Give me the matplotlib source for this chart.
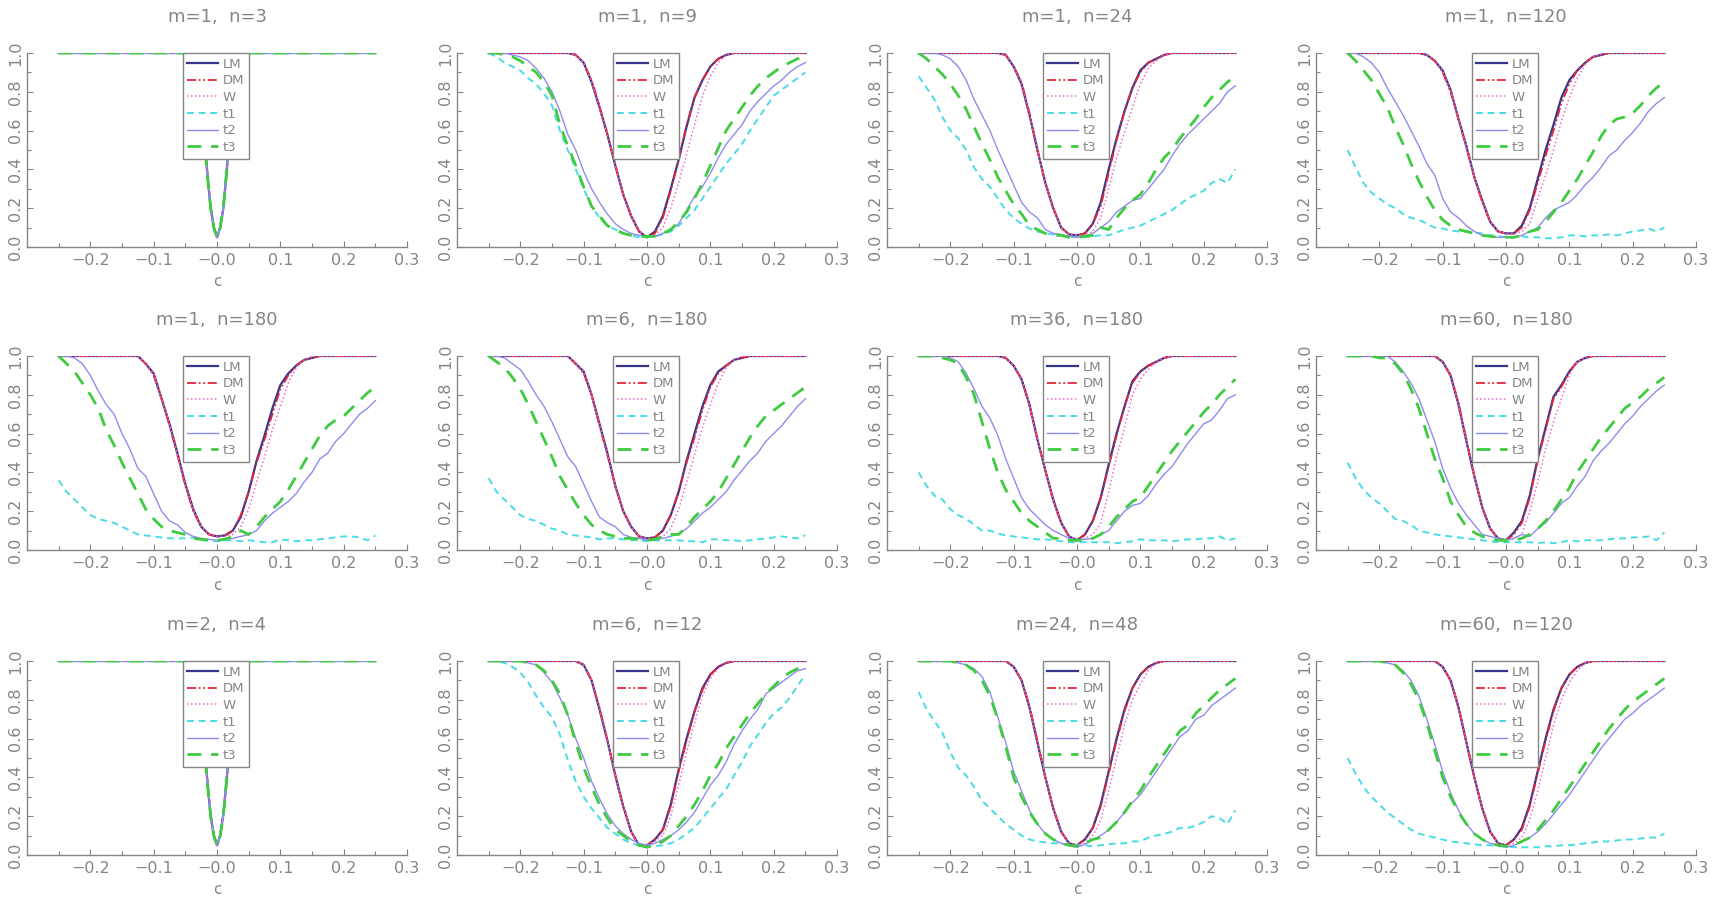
import matplotlib
matplotlib.use("Agg")
import matplotlib.pyplot as plt
from matplotlib.ticker import FixedLocator

# ---------------- data ----------------
C = [-0.25, -0.2375, -0.225, -0.2125, -0.2, -0.1875, -0.175, -0.1625, -0.15, -0.1375,
     -0.125, -0.1125, -0.1, -0.0875, -0.075, -0.0625, -0.05, -0.0375, -0.025, -0.0125,
     0.0, 0.0125, 0.025, 0.0375, 0.05, 0.0625, 0.075, 0.0875, 0.1, 0.1125,
     0.125, 0.1375, 0.15, 0.1625, 0.175, 0.1875, 0.2, 0.2125, 0.225, 0.2375, 0.25]
CV = [-0.25, -0.035, -0.03, -0.025, -0.02, -0.015, -0.01, -0.005, 0.0,
      0.005, 0.01, 0.015, 0.02, 0.025, 0.03, 0.035, 0.25]

TITLES = ["m=1,  n=3", "m=1,  n=9", "m=1,  n=24", "m=1,  n=120",
          "m=1,  n=180", "m=6,  n=180", "m=36,  n=180", "m=60,  n=180",
          "m=2,  n=4", "m=6,  n=12", "m=24,  n=48", "m=60,  n=120"]
NAMES = ["LM", "DM", "W", "t1", "t2", "t3"]
XTICKS = [-0.2, -0.1, 0.0, 0.1, 0.2, 0.3]
XTICKLABELS = ["\u22120.2", "\u22120.1", "\u22120.0", "0.1", "0.2", "0.3"]
YTICKS = [0.0, 0.2, 0.4, 0.6, 0.8, 1.0]
YTICKLABELS = ["0.0", "0.2", "0.4", "0.6", "0.8", "1.0"]

# m=1, n=3
LM_1_3 = [1, 1, .97, .88, .55, .37, .20, .10, .05, .10, .20, .38, .58, .86, .97, 1, 1]
DM_1_3 = [1, 1, .97, .87, .56, .37, .21, .10, .05, .10, .20, .37, .57, .85, .97, 1, 1]
W_1_3 = [1, 1, .97, .88, .56, .38, .20, .10, .05, .10, .19, .37, .57, .85, .97, 1, 1]
T1_1_3 = [1, 1, .97, .87, .55, .36, .20, .10, .05, .10, .20, .37, .58, .86, .97, 1, 1]
T2_1_3 = [1, 1, .97, .88, .55, .37, .20, .10, .05, .10, .21, .38, .58, .86, .97, 1, 1]
T3_1_3 = [1, 1, .96, .87, .54, .36, .20, .10, .05, .10, .20, .38, .59, .86, .97, 1, 1]

# m=1, n=9
LM_1_9 = [1, 1, 1, 1, 1, 1, 1, 1, 1, 1, 1, .99, .95, .85, .72, .58, .42, .27, .16, .08, .05,
          .08, .16, .30, .45, .62, .77, .86, .93, .97, .99, 1, 1, 1, 1, 1, 1, 1, 1, 1, 1]
DM_1_9 = [1, 1, 1, 1, 1, 1, 1, 1, 1, 1, 1, .99, .95, .86, .73, .58, .42, .27, .16, .08, .05,
          .07, .15, .29, .45, .63, .77, .86, .93, .97, .99, 1, 1, 1, 1, 1, 1, 1, 1, 1, 1]
W_1_9 = [1, 1, 1, 1, 1, 1, 1, 1, 1, 1, 1, .99, .95, .85, .72, .58, .42, .27, .16, .08, .05,
         .06, .10, .20, .33, .48, .63, .78, .88, .95, .99, 1, 1, 1, 1, 1, 1, 1, 1, 1, 1]
T1_1_9 = [1.0, .98, .95, .93, .91, .87, .84, .79, .73, .60, .50, .40, .30, .21, .15, .11, .09, .07, .06, .05, .05,
          .055, .065, .08, .11, .15, .19, .25, .31, .37, .43, .48, .53, .60, .66, .72, .78, .81, .84, .87, .90]
T2_1_9 = [1, 1, 1, .99, .98, .96, .92, .87, .80, .70, .58, .50, .39, .30, .23, .17, .12, .09, .07, .06, .055,
          .055, .07, .09, .12, .19, .26, .31, .38, .46, .53, .58, .63, .70, .75, .79, .83, .86, .90, .93, .95]
T3_1_9 = [1, 1, .99, .98, .96, .93, .90, .85, .78, .63, .52, .42, .31, .21, .16, .11, .09, .07, .06, .055, .055,
          .055, .07, .09, .13, .18, .25, .33, .42, .51, .60, .66, .72, .78, .83, .87, .90, .93, .95, .97, .98]

# m=1, n=24
LM_1_24 = [1, 1, 1, 1, 1, 1, 1, 1, 1, 1, 1, .99, .93, .84, .68, .50, .33, .20, .10, .065, .06,
           .07, .12, .23, .40, .56, .70, .82, .91, .95, .97, .99, 1, 1, 1, 1, 1, 1, 1, 1, 1]
DM_1_24 = [1, 1, 1, 1, 1, 1, 1, 1, 1, 1, 1, .99, .93, .85, .69, .50, .33, .20, .10, .065, .06,
           .07, .12, .21, .38, .55, .70, .82, .90, .95, .97, .99, 1, 1, 1, 1, 1, 1, 1, 1, 1]
W_1_24 = [1, 1, 1, 1, 1, 1, 1, 1, 1, 1, 1, .99, .93, .84, .68, .50, .33, .20, .10, .065, .06,
          .06, .08, .15, .30, .46, .59, .72, .84, .92, .96, .99, 1, 1, 1, 1, 1, 1, 1, 1, 1]
T1_1_24 = [.88, .82, .76, .67, .60, .56, .50, .41, .35, .31, .25, .19, .15, .12, .095, .08, .07, .065, .06, .055, .05,
           .05, .055, .06, .06, .075, .09, .10, .11, .13, .15, .17, .19, .22, .25, .27, .29, .33, .35, .33, .40]
T2_1_24 = [1, 1, 1, .99, .97, .93, .86, .76, .68, .60, .50, .41, .32, .23, .18, .15, .09, .07, .065, .055, .05,
           .055, .07, .10, .13, .18, .21, .24, .25, .30, .35, .40, .47, .53, .58, .62, .66, .70, .74, .80, .83]
T3_1_24 = [1, .97, .93, .89, .84, .78, .71, .62, .53, .45, .36, .29, .22, .17, .11, .09, .07, .06, .06, .05, .05,
           .055, .06, .10, .09, .15, .20, .24, .27, .33, .40, .46, .50, .56, .61, .66, .72, .77, .81, .85, .88]

# m=1, n=120
LM_1_120 = [1, 1, 1, 1, 1, 1, 1, 1, 1, 1, .99, .96, .91, .81, .66, .52, .36, .24, .13, .08, .07,
            .07, .11, .20, .35, .50, .63, .77, .86, .91, .95, .98, .99, 1, 1, 1, 1, 1, 1, 1, 1]
DM_1_120 = [1, 1, 1, 1, 1, 1, 1, 1, 1, 1, .99, .96, .90, .80, .66, .51, .36, .23, .13, .08, .07,
            .07, .10, .19, .33, .47, .60, .74, .84, .91, .95, .98, .99, 1, 1, 1, 1, 1, 1, 1, 1]
W_1_120 = [1, 1, 1, 1, 1, 1, 1, 1, 1, 1, .99, .96, .91, .81, .66, .52, .36, .24, .13, .08, .07,
           .065, .08, .12, .25, .37, .50, .65, .77, .87, .94, .98, .995, 1, 1, 1, 1, 1, 1, 1, 1]
T1_1_120 = [.50, .41, .33, .28, .25, .22, .20, .17, .15, .14, .12, .10, .095, .085, .08, .08, .075, .07, .06, .055, .05,
            .05, .055, .05, .05, .045, .045, .05, .06, .06, .055, .06, .06, .065, .06, .07, .08, .085, .095, .08, .10]
T2_1_120 = [1, 1, .98, .95, .90, .82, .75, .68, .60, .52, .43, .37, .25, .18, .15, .11, .08, .06, .055, .05, .05,
            .05, .06, .08, .10, .15, .19, .21, .23, .27, .32, .36, .41, .47, .50, .55, .59, .64, .70, .74, .77]
T3_1_120 = [1, .96, .91, .86, .79, .72, .62, .53, .43, .34, .26, .19, .14, .11, .09, .08, .07, .06, .055, .05, .05,
            .05, .06, .08, .09, .13, .18, .23, .29, .35, .42, .49, .57, .63, .66, .67, .69, .73, .78, .82, .85]

# m=1, n=180
LM_1_180 = [1, 1, 1, 1, 1, 1, 1, 1, 1, 1, 1, .96, .91, .78, .65, .50, .34, .21, .12, .08, .07,
            .075, .10, .17, .30, .46, .59, .73, .85, .91, .95, .98, .99, 1, 1, 1, 1, 1, 1, 1, 1]
DM_1_180 = [1, 1, 1, 1, 1, 1, 1, 1, 1, 1, 1, .96, .90, .78, .64, .49, .33, .20, .12, .08, .07,
            .075, .10, .18, .30, .45, .57, .70, .83, .90, .95, .98, .99, 1, 1, 1, 1, 1, 1, 1, 1]
W_1_180 = [1, 1, 1, 1, 1, 1, 1, 1, 1, 1, 1, .96, .91, .78, .65, .50, .34, .21, .12, .08, .07,
           .07, .08, .12, .21, .35, .48, .62, .74, .86, .94, .98, 1, 1, 1, 1, 1, 1, 1, 1, 1]
T1_1_180 = [.36, .30, .26, .22, .18, .16, .15, .14, .12, .10, .08, .075, .07, .065, .06, .06, .06, .065, .05, .05, .045,
            .05, .05, .045, .05, .045, .04, .04, .055, .05, .045, .05, .05, .055, .06, .065, .07, .07, .065, .05, .075]
T2_1_180 = [1, 1, .99, .96, .90, .82, .75, .70, .60, .52, .42, .38, .29, .20, .15, .13, .09, .07, .06, .055, .05,
            .055, .06, .07, .08, .10, .15, .19, .22, .25, .29, .35, .40, .47, .50, .56, .60, .65, .70, .73, .77]
T3_1_180 = [1, .96, .92, .86, .80, .73, .62, .54, .45, .37, .29, .21, .16, .12, .10, .09, .08, .06, .055, .05, .05,
            .055, .07, .10, .08, .12, .17, .21, .25, .31, .38, .45, .52, .59, .64, .67, .69, .73, .77, .81, .84]

# m=6, n=180
LM_6_180 = [1, 1, 1, 1, 1, 1, 1, 1, 1, 1, 1, .96, .92, .80, .65, .50, .33, .20, .12, .07, .06,
            .065, .10, .18, .30, .46, .60, .74, .85, .92, .95, .98, .99, 1, 1, 1, 1, 1, 1, 1, 1]
DM_6_180 = [1, 1, 1, 1, 1, 1, 1, 1, 1, 1, 1, .96, .91, .80, .64, .49, .33, .20, .12, .07, .06,
            .065, .10, .18, .30, .45, .58, .72, .84, .91, .95, .98, .99, 1, 1, 1, 1, 1, 1, 1, 1]
W_6_180 = [1, 1, 1, 1, 1, 1, 1, 1, 1, 1, 1, .96, .92, .80, .65, .50, .33, .20, .12, .07, .06,
           .06, .07, .11, .21, .35, .49, .63, .75, .86, .94, .98, 1, 1, 1, 1, 1, 1, 1, 1, 1]
T1_6_180 = [.37, .30, .26, .22, .18, .16, .15, .13, .11, .10, .08, .075, .07, .065, .055, .06, .06, .055, .05, .05, .045,
            .05, .05, .05, .05, .045, .045, .04, .055, .055, .05, .05, .045, .05, .055, .06, .065, .07, .065, .06, .075]
T2_6_180 = [1, 1, .99, .96, .93, .87, .80, .74, .66, .57, .48, .43, .34, .25, .17, .14, .12, .08, .065, .06, .05,
            .055, .06, .07, .085, .11, .15, .19, .22, .26, .30, .36, .41, .46, .50, .56, .60, .64, .69, .74, .78]
T3_6_180 = [1, .97, .94, .89, .83, .75, .66, .57, .48, .38, .31, .24, .18, .13, .10, .08, .07, .06, .06, .055, .05,
            .055, .07, .08, .08, .12, .17, .21, .25, .30, .37, .44, .51, .58, .64, .69, .72, .75, .78, .81, .84]

# m=36, n=180
LM_36_180 = [1, 1, 1, 1, 1, 1, 1, 1, 1, 1, 1, .99, .95, .88, .75, .57, .41, .26, .14, .07, .05,
             .08, .15, .27, .44, .60, .74, .87, .92, .95, .97, .99, 1, 1, 1, 1, 1, 1, 1, 1, 1]
DM_36_180 = [1, 1, 1, 1, 1, 1, 1, 1, 1, 1, 1, .99, .95, .88, .74, .57, .41, .25, .14, .07, .05,
             .08, .15, .27, .43, .59, .74, .86, .92, .95, .97, .99, 1, 1, 1, 1, 1, 1, 1, 1, 1]
W_36_180 = [1, 1, 1, 1, 1, 1, 1, 1, 1, 1, 1, .99, .95, .88, .75, .57, .41, .26, .14, .07, .05,
            .06, .08, .14, .30, .48, .63, .80, .88, .93, .97, .99, 1, 1, 1, 1, 1, 1, 1, 1, 1]
T1_36_180 = [.40, .33, .28, .26, .21, .18, .16, .13, .10, .10, .085, .075, .07, .065, .06, .055, .055, .05, .045, .04, .04,
             .04, .04, .04, .04, .035, .04, .045, .055, .05, .05, .05, .045, .05, .055, .055, .06, .06, .07, .05, .06]
T2_36_180 = [1, 1, 1, 1, .99, .97, .91, .83, .74, .68, .59, .47, .37, .27, .21, .17, .13, .10, .08, .06, .05,
             .055, .06, .08, .10, .15, .20, .23, .24, .28, .34, .39, .43, .49, .55, .60, .65, .67, .72, .78, .80]
T3_36_180 = [1, 1, 1, .99, .98, .96, .89, .80, .66, .52, .40, .31, .25, .19, .15, .12, .09, .06, .06, .05, .05,
             .05, .06, .08, .12, .17, .21, .25, .27, .33, .39, .45, .51, .56, .61, .66, .71, .75, .80, .84, .88]

# m=60, n=180
LM_60_180 = [1, 1, 1, 1, 1, 1, 1, 1, 1, 1, 1, 1, .97, .90, .75, .56, .38, .22, .11, .06, .05,
             .09, .15, .28, .47, .63, .79, .85, .92, .97, .99, 1, 1, 1, 1, 1, 1, 1, 1, 1, 1]
DM_60_180 = [1, 1, 1, 1, 1, 1, 1, 1, 1, 1, 1, 1, .97, .90, .76, .57, .38, .22, .11, .06, .05,
             .08, .14, .27, .46, .62, .78, .84, .92, .97, .99, 1, 1, 1, 1, 1, 1, 1, 1, 1, 1]
W_60_180 = [1, 1, 1, 1, 1, 1, 1, 1, 1, 1, 1, 1, .97, .90, .75, .56, .38, .22, .11, .06, .05,
            .06, .08, .20, .35, .52, .66, .78, .90, .97, .99, 1, 1, 1, 1, 1, 1, 1, 1, 1, 1]
T1_60_180 = [.45, .37, .31, .27, .24, .20, .16, .15, .13, .10, .09, .08, .075, .07, .065, .06, .055, .05, .045, .04, .04,
             .04, .04, .04, .035, .04, .035, .04, .05, .045, .05, .05, .05, .055, .06, .06, .065, .065, .07, .05, .09]
T2_60_180 = [1, 1, 1, 1, 1, 1, .97, .92, .86, .78, .67, .56, .42, .32, .24, .18, .13, .08, .07, .06, .05,
             .06, .08, .07, .11, .14, .19, .24, .27, .33, .38, .46, .51, .55, .60, .65, .69, .74, .78, .82, .85]
T3_60_180 = [1, 1, 1, 1, .99, .99, .96, .91, .83, .73, .60, .47, .37, .25, .18, .12, .09, .07, .06, .05, .05,
             .05, .06, .08, .11, .15, .20, .26, .32, .40, .46, .52, .58, .63, .68, .73, .76, .79, .83, .86, .89]

# m=2, n=4
LM_2_4 = [1, 1, .97, .88, .56, .37, .20, .10, .05, .10, .21, .38, .58, .86, .97, 1, 1]
DM_2_4 = [1, 1, .97, .87, .56, .38, .21, .10, .05, .10, .20, .37, .57, .85, .97, 1, 1]
W_2_4 = [1, 1, .97, .88, .55, .37, .20, .10, .05, .10, .20, .37, .58, .85, .97, 1, 1]
T1_2_4 = [1, 1, .97, .87, .55, .36, .20, .10, .05, .10, .20, .38, .58, .86, .97, 1, 1]
T2_2_4 = [1, 1, .97, .88, .56, .37, .21, .10, .05, .10, .21, .38, .59, .86, .97, 1, 1]
T3_2_4 = [1, 1, .96, .87, .54, .36, .20, .10, .05, .10, .20, .38, .59, .86, .97, 1, 1]

# m=6, n=12
LM_6_12 = [1, 1, 1, 1, 1, 1, 1, 1, 1, 1, 1, 1, .98, .90, .75, .59, .41, .25, .12, .05, .05,
           .08, .13, .26, .44, .60, .74, .86, .93, .97, .99, 1, 1, 1, 1, 1, 1, 1, 1, 1, 1]
DM_6_12 = [1, 1, 1, 1, 1, 1, 1, 1, 1, 1, 1, 1, .98, .90, .76, .59, .41, .25, .12, .05, .05,
           .08, .13, .25, .43, .59, .74, .85, .93, .97, .99, 1, 1, 1, 1, 1, 1, 1, 1, 1, 1]
W_6_12 = [1, 1, 1, 1, 1, 1, 1, 1, 1, 1, 1, 1, .98, .90, .75, .59, .41, .25, .12, .05, .05,
          .07, .10, .20, .36, .53, .68, .82, .91, .96, .99, 1, 1, 1, 1, 1, 1, 1, 1, 1, 1]
T1_6_12 = [1, 1, .99, .97, .94, .89, .82, .76, .71, .62, .49, .38, .30, .24, .19, .14, .11, .08, .06, .05, .045,
           .045, .05, .06, .08, .11, .14, .19, .24, .29, .34, .41, .48, .56, .62, .68, .73, .76, .81, .87, .93]
T2_6_12 = [1, 1, 1, 1, 1, .99, .98, .94, .89, .81, .72, .60, .50, .38, .29, .21, .15, .11, .08, .06, .05,
           .06, .08, .10, .13, .17, .22, .29, .36, .41, .48, .57, .64, .70, .75, .83, .86, .89, .92, .95, .96]
T3_6_12 = [1, 1, 1, 1, 1, .99, .98, .95, .90, .83, .72, .58, .45, .35, .26, .19, .13, .10, .07, .05, .04,
           .05, .07, .10, .15, .20, .26, .33, .41, .47, .55, .61, .67, .73, .78, .83, .87, .91, .94, .96, .98]

# m=24, n=48
LM_24_48 = [1, 1, 1, 1, 1, 1, 1, 1, 1, 1, 1, 1, .97, .90, .76, .58, .40, .24, .12, .06, .05,
            .08, .14, .26, .43, .60, .75, .86, .93, .97, .99, 1, 1, 1, 1, 1, 1, 1, 1, 1, 1]
DM_24_48 = [1, 1, 1, 1, 1, 1, 1, 1, 1, 1, 1, 1, .97, .90, .77, .59, .40, .24, .12, .06, .05,
            .08, .14, .25, .42, .59, .74, .86, .93, .97, .99, 1, 1, 1, 1, 1, 1, 1, 1, 1, 1]
W_24_48 = [1, 1, 1, 1, 1, 1, 1, 1, 1, 1, 1, 1, .97, .90, .76, .58, .40, .24, .12, .06, .05,
           .06, .10, .18, .33, .50, .67, .80, .88, .95, .99, 1, 1, 1, 1, 1, 1, 1, 1, 1, 1]
T1_24_48 = [.84, .75, .69, .63, .53, .45, .41, .35, .28, .24, .20, .16, .13, .10, .08, .07, .065, .06, .06, .05, .05,
            .05, .045, .05, .055, .06, .06, .07, .07, .09, .10, .11, .12, .14, .14, .15, .17, .20, .19, .16, .23]
T2_24_48 = [1, 1, 1, 1, 1, .99, .98, .96, .92, .84, .71, .58, .43, .33, .23, .16, .11, .08, .06, .05, .04,
            .055, .08, .10, .13, .17, .22, .27, .31, .37, .43, .49, .55, .61, .64, .70, .72, .77, .80, .83, .86]
T3_24_48 = [1, 1, 1, 1, 1, .99, .98, .95, .90, .82, .70, .56, .40, .30, .22, .16, .11, .08, .06, .05, .045,
            .06, .08, .09, .13, .17, .22, .28, .33, .40, .46, .52, .58, .64, .67, .73, .77, .81, .85, .88, .91]

# m=60, n=120
LM_60_120 = [1, 1, 1, 1, 1, 1, 1, 1, 1, 1, 1, 1, .97, .90, .76, .58, .40, .24, .12, .06, .05,
             .08, .14, .26, .43, .60, .75, .86, .93, .97, .99, 1, 1, 1, 1, 1, 1, 1, 1, 1, 1]
DM_60_120 = [1, 1, 1, 1, 1, 1, 1, 1, 1, 1, 1, 1, .97, .90, .77, .58, .40, .24, .12, .06, .05,
             .08, .13, .25, .42, .59, .74, .86, .93, .97, .99, 1, 1, 1, 1, 1, 1, 1, 1, 1, 1]
W_60_120 = [1, 1, 1, 1, 1, 1, 1, 1, 1, 1, 1, 1, .97, .90, .76, .58, .40, .24, .12, .06, .05,
            .06, .09, .18, .33, .50, .67, .80, .89, .95, .99, 1, 1, 1, 1, 1, 1, 1, 1, 1, 1]
T1_60_120 = [.50, .42, .35, .30, .26, .22, .19, .16, .13, .11, .10, .09, .08, .07, .065, .06, .055, .05, .05, .045, .045,
             .04, .04, .04, .04, .045, .045, .05, .05, .055, .06, .065, .07, .07, .075, .08, .08, .085, .09, .09, .11]
T2_60_120 = [1, 1, 1, 1, 1, .99, .98, .95, .90, .82, .70, .57, .43, .32, .23, .16, .11, .08, .06, .05, .04,
             .05, .07, .09, .12, .16, .21, .26, .31, .37, .43, .49, .55, .60, .65, .70, .73, .77, .80, .83, .86]
T3_60_120 = [1, 1, 1, 1, 1, .99, .98, .94, .88, .80, .68, .54, .40, .30, .22, .16, .11, .08, .06, .05, .045,
             .05, .07, .09, .13, .18, .23, .29, .35, .41, .47, .53, .59, .65, .70, .75, .79, .82, .85, .88, .91]

PANELS = [
    (CV, [LM_1_3, DM_1_3, W_1_3, T1_1_3, T2_1_3, T3_1_3]),
    (C, [LM_1_9, DM_1_9, W_1_9, T1_1_9, T2_1_9, T3_1_9]),
    (C, [LM_1_24, DM_1_24, W_1_24, T1_1_24, T2_1_24, T3_1_24]),
    (C, [LM_1_120, DM_1_120, W_1_120, T1_1_120, T2_1_120, T3_1_120]),
    (C, [LM_1_180, DM_1_180, W_1_180, T1_1_180, T2_1_180, T3_1_180]),
    (C, [LM_6_180, DM_6_180, W_6_180, T1_6_180, T2_6_180, T3_6_180]),
    (C, [LM_36_180, DM_36_180, W_36_180, T1_36_180, T2_36_180, T3_36_180]),
    (C, [LM_60_180, DM_60_180, W_60_180, T1_60_180, T2_60_180, T3_60_180]),
    (CV, [LM_2_4, DM_2_4, W_2_4, T1_2_4, T2_2_4, T3_2_4]),
    (C, [LM_6_12, DM_6_12, W_6_12, T1_6_12, T2_6_12, T3_6_12]),
    (C, [LM_24_48, DM_24_48, W_24_48, T1_24_48, T2_24_48, T3_24_48]),
    (C, [LM_60_120, DM_60_120, W_60_120, T1_60_120, T2_60_120, T3_60_120]),
]

# ---------------- style ----------------
GRAY = "#858585"
STY = {
    "LM": dict(color="#35358c", lw=1.6, ls="-"),
    "DM": dict(color="#e3263a", lw=1.3, ls=(0, (5, 1.5, 1, 1.5, 1, 1.5))),
    "W": dict(color="#f468cc", lw=1.1, ls=(0, (1, 1.6))),
    "t1": dict(color="#48dce4", lw=1.4, ls=(0, (3.5, 2.5))),
    "t2": dict(color="#8d8def", lw=1.0, ls="-"),
    "t3": dict(color="#3fcb3f", lw=2.0, ls=(0, (5, 3.5))),
}

plt.rcParams["font.family"] = ["DejaVu Sans"]

W_PX, H_PX = 1722, 899
LEFTS = [27, 457, 887, 1316]
TOPS = [53, 356, 661]
AX_W, AX_H = 380, 194

fig = plt.figure(figsize=(W_PX / 100, H_PX / 100), dpi=100)
fig.patch.set_facecolor("white")

for k, (xs, series) in enumerate(PANELS):
    r, c = divmod(k, 4)
    ax = fig.add_axes([LEFTS[c] / W_PX, 1 - (TOPS[r] + AX_H) / H_PX, AX_W / W_PX, AX_H / H_PX])
    for name, ys in zip(NAMES, series):
        ax.plot(xs, ys, label=name, **STY[name])
    ax.set_xlim(-0.3, 0.3)
    ax.set_ylim(0.0, 1.0)
    for s in ("top", "right"):
        ax.spines[s].set_visible(False)
    for s in ("left", "bottom"):
        ax.spines[s].set_color(GRAY)
        ax.spines[s].set_linewidth(1.0)
    ax.set_xticks(XTICKS)
    ax.set_xticklabels(XTICKLABELS)
    ax.xaxis.set_minor_locator(FixedLocator([-0.25, -0.15, -0.05, 0.05, 0.15, 0.25]))
    ax.set_yticks(YTICKS)
    ax.set_yticklabels(YTICKLABELS, rotation=90, va="center")
    ax.yaxis.set_minor_locator(FixedLocator([0.1, 0.3, 0.5, 0.7, 0.9]))
    ax.tick_params(axis="both", which="both", direction="in", color=GRAY,
                   labelcolor=GRAY, labelsize=11.5, width=0.8)
    ax.tick_params(axis="both", which="major", length=4)
    ax.tick_params(axis="both", which="minor", length=3)
    ax.tick_params(axis="x", pad=4)
    ax.tick_params(axis="y", pad=3)
    ax.set_title(TITLES[k], color=GRAY, fontsize=13, pad=22)
    ax.set_xlabel("c", color=GRAY, fontsize=11, labelpad=5)
    leg = ax.legend(loc="upper center", bbox_to_anchor=(0.497, 1.0), frameon=True,
                    fancybox=False, edgecolor=GRAY, framealpha=1.0, fontsize=9.5,
                    handlelength=2.3, labelspacing=0.28, borderpad=0.35,
                    handletextpad=0.4, borderaxespad=0.0, labelcolor=GRAY)
    leg.get_frame().set_linewidth(1.0)

fig.savefig("out.png", dpi=100, facecolor="white")
